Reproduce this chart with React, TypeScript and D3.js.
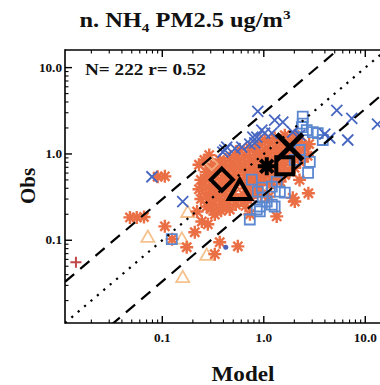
import React from "react";
import * as d3 from "d3";

// Model vs observed NH4 PM2.5 (ug/m3), one array of [model, obs] pairs per network
const crossPts: [number, number][] = [
  [0.079, 0.544], [0.159, 0.281], [0.873, 3.12], [1.28, 2.46], [1.54, 2.33],
  [0.78, 1.57], [0.956, 1.89], [0.413, 1.11], [0.607, 1.2], [0.728, 1.3],
  [5.24, 3.2], [7.36, 2.59], [6.72, 1.45], [3.99, 1.7], [4.47, 1.53],
  [13.2, 2.21], [1.2, 1.74], [1.93, 1.79], [2.26, 1.65], [0.395, 1.05],
  [0.853, 1.57], [1.02, 1.74], [0.432, 1.2], [0.815, 1.34], [0.52, 1.15],
];

const starPts: [number, number][] = [
  [0.048, 0.184], [0.056, 0.184], [0.066, 0.186], [0.09, 0.544], [0.106, 0.55],
  [0.106, 0.145], [0.125, 0.103], [0.174, 0.083], [0.209, 0.124], [0.245, 0.165],
  [0.281, 0.153], [0.368, 0.095], [0.329, 0.069], [0.555, 0.085], [0.274, 0.246],
  [0.386, 0.259], [0.329, 0.199], [0.462, 0.227], [1.34, 0.189], [2.02, 0.281],
  [2.75, 0.35], [1.93, 0.31], [0.73, 0.2],
  [0.23, 0.75], [0.24, 0.5], [0.23, 0.39], [0.24, 0.3], [0.22, 0.215],
  [0.26, 0.85], [0.27, 0.62], [0.26, 0.44], [0.27, 0.34],
  [0.29, 0.97], [0.3, 0.69], [0.29, 0.53], [0.3, 0.39], [0.29, 0.3], [0.3, 0.23],
  [0.33, 0.75], [0.32, 0.57], [0.34, 0.44], [0.33, 0.34], [0.32, 0.26],
  [0.37, 0.85], [0.36, 0.66], [0.38, 0.5], [0.37, 0.39], [0.36, 0.3], [0.38, 0.22],
  [0.41, 0.75], [0.42, 0.57], [0.4, 0.44], [0.41, 0.34], [0.43, 0.26],
  [0.46, 0.9], [0.47, 0.69], [0.45, 0.53], [0.46, 0.41], [0.47, 0.31],
  [0.52, 0.97], [0.51, 0.75], [0.53, 0.57], [0.52, 0.44], [0.5, 0.34], [0.53, 0.26],
  [0.58, 1.11], [0.57, 0.85], [0.59, 0.66], [0.58, 0.5], [0.6, 0.3],
  [0.65, 0.97], [0.64, 0.75], [0.66, 0.57], [0.65, 0.44], [0.63, 0.34], [0.66, 0.25],
  [0.73, 1.17], [0.72, 0.9], [0.74, 0.69], [0.73, 0.53], [0.71, 0.41], [0.75, 0.31],
  [0.82, 1.05], [0.8, 0.81], [0.83, 0.62], [0.81, 0.48], [0.84, 0.37],
  [0.91, 1.27], [0.9, 0.97], [0.93, 0.75], [0.92, 0.57], [0.89, 0.44], [0.94, 0.34],
  [1.02, 1.45], [1.03, 1.11], [1.0, 0.85], [1.04, 0.66], [1.01, 0.5],
  [1.15, 1.34], [1.13, 1.03], [1.16, 0.79], [1.14, 0.61], [1.17, 0.44], [1.12, 0.32],
  [1.28, 1.53], [1.3, 1.17], [1.26, 0.9], [1.29, 0.69], [1.27, 0.53],
  [1.44, 1.45], [1.42, 1.11], [1.46, 0.85], [1.43, 0.66], [1.45, 0.48],
  [1.61, 1.65], [1.6, 1.27], [1.63, 0.97], [1.59, 0.75], [1.62, 0.57],
  [1.8, 1.45], [1.78, 1.11], [1.82, 0.85], [1.79, 0.62],
  [2.02, 1.65], [2.0, 1.27], [2.05, 0.97], [2.01, 0.69],
  [2.26, 1.37], [2.24, 1.05], [2.28, 0.81], [2.25, 0.5],
  [2.53, 1.17], [2.5, 0.9], [2.8, 1.3], [2.7, 0.95],
];

const squarePts: [number, number][] = [
  [2.42, 2.7], [2.42, 2.25], [2.65, 1.89], [3.04, 1.79], [3.4, 1.74], [3.81, 1.45],
  [2.26, 1.11], [2.84, 0.81], [2.73, 0.605], [0.956, 0.407], [0.977, 0.312],
  [1.2, 0.418], [1.44, 0.366], [1.61, 0.356], [0.913, 0.246], [1.34, 0.477],
  [0.728, 0.174], [0.913, 0.216], [1.2, 0.259], [0.762, 0.503], [0.873, 0.366],
  [1.07, 0.281], [1.28, 0.246], [0.853, 0.227], [0.124, 0.103], [2.37, 2.04],
  [2.02, 0.853],
];

const trianglePts: [number, number][] = [
  [0.072, 0.108], [0.159, 0.037], [0.178, 0.21], [0.274, 0.067], [0.156, 0.103],
];

const diamondPts: [number, number][] = [[0.307, 0.767]];

const plusPts: [number, number][] = [[0.0141, 0.0558]];

const dotPts: [number, number][] = [[0.422, 0.0831]];

// network means
const meanDiamond: [number, number] = [0.386, 0.503];
const meanTriangle: [number, number] = [0.58, 0.37];
const meanStar: [number, number] = [1.07, 0.72];
const meanSquare: [number, number] = [1.61, 0.73];
const meanCross: [number, number] = [1.8, 1.2];

const majorTicks = [0.1, 1, 10];
const tickLabels = ["0.1", "1.0", "10.0"];
const statsText = "N= 222 r= 0.52";
const ratioLines = [
  { k: 1, dash: "2.2,6.2" },
  { k: 3, dash: "12,8" },
  { k: 1 / 3, dash: "12,8" },
];

const W = 380;
const H = 385;
const domain: [number, number] = [0.011, 16];
const x = d3.scaleLog().domain(domain).range([65, 386]);
const y = d3.scaleLog().domain(domain).range([323, 50]);

const minorTicks: number[] = [];
for (const dec of [0.01, 0.1, 1, 10]) {
  for (let m = 2; m <= 9; m++) {
    const v = dec * m;
    if (v > domain[0] && v < domain[1]) minorTicks.push(v);
  }
}

const crossPath = (r: number) => `M${-r},${-r}L${r},${r}M${-r},${r}L${r},${-r}`;
const plusPath = (r: number) => `M${-r},0L${r},0M0,${-r}L0,${r}`;
const starPath = (r: number) => {
  const d = r * Math.SQRT1_2;
  return `M${-r},0L${r},0M0,${-r}L0,${r}M${-d},${-d}L${d},${d}M${-d},${d}L${d},${-d}`;
};
const squarePath = (s: number) => `M${-s},${-s}H${s}V${s}H${-s}Z`;
const trianglePath = (s: number) =>
  `M0,${-s * 1.05}L${s},${s * 0.7}L${-s},${s * 0.7}Z`;
const diamondPath = (s: number) => `M0,${-s}L${s},0L0,${s}L${-s},0Z`;

const serif = "'Liberation Serif', 'Times New Roman', serif";

function Marks({
  pts,
  d,
  stroke,
  width,
  fill = "none",
}: {
  pts: [number, number][];
  d: string;
  stroke: string;
  width: number;
  fill?: string;
}) {
  return (
    <g>
      {pts.map(([m, o], i) => (
        <path
          key={i}
          d={d}
          transform={`translate(${x(m)},${y(o)})`}
          fill={fill}
          stroke={stroke}
          strokeWidth={width}
          strokeLinejoin="miter"
        />
      ))}
    </g>
  );
}

function Mean({ p, d, width }: { p: [number, number]; d: string; width: number }) {
  return (
    <path
      d={d}
      transform={`translate(${x(p[0])},${y(p[1])})`}
      fill="none"
      stroke="#000"
      strokeWidth={width}
      strokeLinejoin="miter"
    />
  );
}

export default function App() {
  const [x0, x1] = x.range();
  const [yb, yt] = y.range();
  return (
    <svg
      width={W}
      height={H}
      viewBox={`0 0 ${W} ${H}`}
      style={{ position: "absolute", left: 0, top: 0, background: "#fff" }}
      fontFamily={serif}
    >
      <defs>
        <clipPath id="plotArea">
          <rect x={x0} y={yt} width={x1 - x0} height={yb - yt} />
        </clipPath>
      </defs>

      {/* title */}
      <g transform="translate(185,27) scale(1.22,1)">
        <text textAnchor="middle" fontSize={20} fontWeight="bold" fill="#111">
          n. NH
          <tspan fontSize={12.5} dy={5}>4</tspan>
          <tspan dy={-5}> PM2.5 ug/m</tspan>
          <tspan fontSize={12.5} dy={-8}>3</tspan>
        </text>
      </g>

      <g clipPath="url(#plotArea)">
        <Marks pts={trianglePts} d={trianglePath(6.5)} stroke="#f5c28e" width={1.8} />
        <Marks pts={starPts} d={starPath(6.5)} stroke="#ea6f45" width={2.4} />
        <Marks pts={squarePts} d={squarePath(5)} stroke="#5b88d0" width={1.8} />
        <Marks pts={crossPts} d={crossPath(5.5)} stroke="#4766c2" width={1.8} />
        <Marks pts={diamondPts} d={diamondPath(6)} stroke="#f0a97c" width={1.8} />
        <Marks pts={plusPts} d={plusPath(5.5)} stroke="#c0474a" width={2} />
        {dotPts.map(([m, o], i) => (
          <circle key={i} cx={x(m)} cy={y(o)} r={2.5} fill="#4a62b8" />
        ))}

        {ratioLines.map((l, i) => (
          <line
            key={i}
            x1={x(domain[0])}
            y1={y(domain[0] * l.k)}
            x2={x(domain[1])}
            y2={y(domain[1] * l.k)}
            stroke="#000"
            strokeWidth={2.2}
            strokeDasharray={l.dash}
          />
        ))}

        <Mean p={meanDiamond} d={diamondPath(11)} width={4} />
        <Mean p={meanTriangle} d={trianglePath(11)} width={4} />
        <Mean p={meanStar} d={starPath(9)} width={4} />
        <Mean p={meanSquare} d={squarePath(8.5)} width={4} />
        <Mean p={meanCross} d={crossPath(13)} width={5} />
      </g>

      {/* frame */}
      <g stroke="#000" fill="none">
        <line x1={x0} y1={yt} x2={x1} y2={yt} strokeWidth={1.6} />
        <line x1={x0} y1={yb} x2={x1} y2={yb} strokeWidth={1.6} />
        <line x1={x0} y1={yt - 0.8} x2={x0} y2={yb + 0.8} strokeWidth={1.6} />
        {majorTicks.map((v) => (
          <g key={`M${v}`} strokeWidth={1.4}>
            <line x1={x(v)} y1={yb} x2={x(v)} y2={yb - 7} />
            <line x1={x(v)} y1={yt} x2={x(v)} y2={yt + 7} />
            <line x1={x0} y1={y(v)} x2={x0 + 7} y2={y(v)} />
          </g>
        ))}
        {minorTicks.map((v) => (
          <g key={`m${v}`} strokeWidth={1.1}>
            <line x1={x(v)} y1={yb} x2={x(v)} y2={yb - 3.5} />
            <line x1={x(v)} y1={yt} x2={x(v)} y2={yt + 3.5} />
            <line x1={x0} y1={y(v)} x2={x0 + 3.5} y2={y(v)} />
          </g>
        ))}
      </g>

      {/* tick labels */}
      <g fontSize={11.5} fontWeight="bold" fill="#111">
        {majorTicks.map((v, i) => (
          <g key={`xl${v}`} transform={`translate(${x(v)},${yb + 19}) scale(1.15,1)`}>
            <text textAnchor="middle">{tickLabels[i]}</text>
          </g>
        ))}
        {majorTicks.map((v, i) => (
          <g key={`yl${v}`} transform={`translate(${x0 - 3},${y(v) + 4}) scale(1.15,1)`}>
            <text textAnchor="end">{tickLabels[i]}</text>
          </g>
        ))}
      </g>

      {/* statistics */}
      <g transform="translate(85,75) scale(1.2,1)">
        <text fontSize={16} fontWeight="bold" fill="#111">
          {statsText}
        </text>
      </g>

      {/* axis titles */}
      <g transform="translate(243,381) scale(1.1,1)">
        <text textAnchor="middle" fontSize={21} fontWeight="bold" fill="#111">
          Model
        </text>
      </g>
      <g transform="translate(35,186) rotate(-90)">
        <text textAnchor="middle" fontSize={21} fontWeight="bold" fill="#111">
          Obs
        </text>
      </g>
    </svg>
  );
}
